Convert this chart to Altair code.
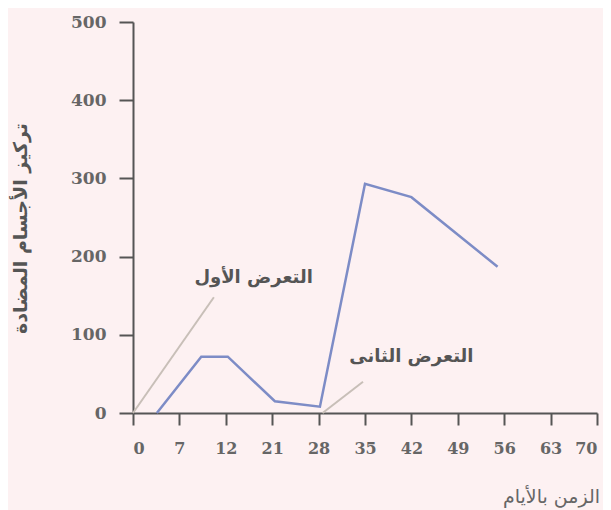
import altair as alt
import pandas as pd

# data
days = [3.6, 10.3, 14.3, 21.4, 28.2, 35, 42, 55]
antibody = [0, 72, 72, 15, 8, 293, 276, 187]

tick_days = [0, 7, 14, 21, 28, 35, 42, 49, 56, 63, 70]
tick_labels = ["0", "7", "12", "21", "28", "35", "42", "49", "56", "63", "70"]
y_ticks = [0, 50, 100, 150, 200, 250, 300, 350, 400, 450, 500]

ann_text = ["التعرض الأول", "التعرض الثانى"]
ann_text_x = [18.2, 42]
ann_text_y = [173, 72]
ann_line_x = [0, 28.6]
ann_line_y = [0, 0]
ann_line_x2 = [12.2, 34.7]
ann_line_y2 = [148, 40]

df = pd.DataFrame({"day": days, "value": antibody})
ann = pd.DataFrame({"t": ann_text, "x": ann_text_x, "y": ann_text_y,
                    "lx": ann_line_x, "ly": ann_line_y,
                    "lx2": ann_line_x2, "ly2": ann_line_y2})

label_expr = "[" + ",".join("'%s'" % s for s in tick_labels) + "][indexof([" + \
    ",".join(str(v) for v in tick_days) + "], datum.value)]"

xscale = alt.Scale(domain=[0, 70], nice=False, zero=False)
yscale = alt.Scale(domain=[0, 500], nice=False)

x_axis = alt.Axis(values=tick_days, labelExpr=label_expr, grid=False,
                  tickSize=12, labelPadding=15, domainColor="#555", tickColor="#555",
                  domainWidth=2, tickWidth=2,
                  labelFont="DejaVu Serif", labelFontSize=16, labelFontWeight="bold",
                  labelColor="#666",
                  title="الزمن بالأيام", titleFont="DejaVu Sans", titleFontSize=19,
                  titleFontWeight="normal", titleColor="#666", titleX=418, titleY=83,
                  titleAlign="center", titleBaseline="middle")
y_axis = alt.Axis(values=y_ticks, labelExpr="datum.value % 100 == 0 ? datum.value : ''",
                  grid=False, tickSize=14, labelPadding=13, domainColor="#555",
                  tickColor="#555", domainWidth=2, tickWidth=2,
                  labelFont="DejaVu Serif", labelFontSize=17, labelFontWeight="bold",
                  labelColor="#666",
                  title="تركيز الأجسام المضادة", titleFont="DejaVu Sans", titleFontSize=19,
                  titleFontWeight="bold", titleColor="#555", titleX=-113, titleY=206,
                  titleAngle=-90, titleAlign="center", titleBaseline="middle")

line = alt.Chart(df).mark_line(color="#7d8cc6", strokeWidth=2.5).encode(
    x=alt.X("day:Q", scale=xscale, axis=x_axis),
    y=alt.Y("value:Q", scale=yscale, axis=y_axis),
)

ann_lines = alt.Chart(ann).mark_rule(color="#c8bfb8", strokeWidth=2).encode(
    x="lx:Q", y="ly:Q", x2="lx2:Q", y2="ly2:Q"
)

ann_labels = alt.Chart(ann).mark_text(font="DejaVu Sans", fontSize=18, fontWeight="bold",
                                      color="#555").encode(
    x="x:Q", y="y:Q", text="t:N"
)

chart = alt.layer(ann_lines, line, ann_labels).properties(
    width=464, height=391,
    background="#fdf1f2",
    autosize=alt.AutoSizeParams(type="none"),
    padding={"left": 125, "top": 14, "right": 6, "bottom": 97},
).configure_view(stroke=None)

chart.save("out.html", embed_options={"renderer": "svg", "actions": False})
